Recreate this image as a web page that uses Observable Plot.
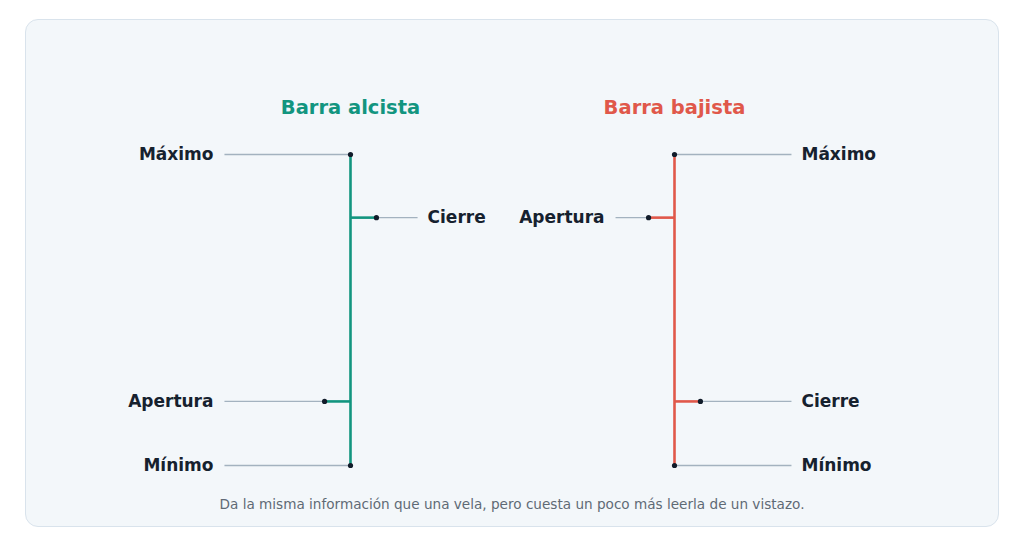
<!DOCTYPE html>
<html>
<head>
<meta charset="utf-8">
<script src="https://cdn.jsdelivr.net/npm/d3@7"></script>
<script src="https://cdn.jsdelivr.net/npm/@observablehq/plot@0.6"></script>
<style>
  html, body { margin: 0; padding: 0; background: #ffffff; }
  #page { position: relative; width: 1024px; height: 546px; overflow: hidden; font-family: "DejaVu Sans", sans-serif; }
  #card { position: absolute; left: 25px; top: 19px; width: 974px; height: 508px; box-sizing: border-box;
          background: #f3f7fa; border: 1px solid #d9e3ec; border-radius: 13px; }
  #chart { position: absolute; left: 0; top: 0; }
  #caption { position: absolute; left: 0; width: 1024px; top: 496px; text-align: center;
             font-size: 13.6px; line-height: 17px; color: #5f6a75; }
</style>
</head>
<body>
<div id="page">
  <div id="card"></div>
  <div id="chart"></div>
  <div id="caption">Da la misma información que una vela, pero cuesta un poco más leerla de un vistazo.</div>
</div>
<script>
// ---- data ----
const bars = ["Barra alcista", "Barra bajista"];
const openValues = [20.6, 79.7];
const highValues = [100, 100];
const lowValues = [0, 0];
const closeValues = [79.7, 20.6];
const fieldNames = ["Máximo", "Apertura", "Cierre", "Mínimo"];
const barColors = ["#12957f", "#e0584a"];

// ---- layout constants (in x-scale units, one unit between the bars) ----
const TICK = 0.08;
const OUTER = [-0.389, 0.361];     // outer leader end, relative to bar, per bar
const INNER = [0.207, -0.182];     // inner leader end, relative to bar, per bar
const outerSide = [-1, 1];

const barRows = bars.map((name, i) => ({
  name, i, open: openValues[i], high: highValues[i], low: lowValues[i], close: closeValues[i], color: barColors[i]
}));

const ticks = [];
const notes = [];
barRows.forEach(b => {
  const fields = [
    {label: fieldNames[0], value: b.high, side: outerSide[b.i], tick: 0},
    {label: fieldNames[1], value: b.open, side: -1, tick: -TICK},
    {label: fieldNames[2], value: b.close, side: 1, tick: TICK},
    {label: fieldNames[3], value: b.low, side: outerSide[b.i], tick: 0}
  ];
  fields.forEach(f => {
    const dotX = b.i + f.tick;
    const farX = b.i + (f.side === outerSide[b.i] ? OUTER[b.i] : INNER[b.i]);
    notes.push({label: f.label, y: f.value, dotX, farX, side: f.side});
    if (f.tick !== 0) ticks.push({x1: b.i, x2: dotX, y: f.value, color: b.color});
  });
});

const chart = Plot.plot({
  width: 1024,
  height: 490,
  marginLeft: 350,
  marginRight: 350,
  marginTop: 154,
  marginBottom: 25,
  x: {domain: [0, 1], axis: null},
  y: {domain: [0, 100], axis: null},
  style: {background: "transparent", fontFamily: "DejaVu Sans, sans-serif", overflow: "visible"},
  marks: [
    Plot.link(notes, {x1: "dotX", x2: "farX", y1: "y", y2: "y", stroke: "#a3b2bf", strokeWidth: 1.3}),
    Plot.ruleX(barRows, {x: "i", y1: "low", y2: "high", stroke: "color", strokeWidth: 2.6}),
    Plot.link(ticks, {x1: "x1", x2: "x2", y1: "y", y2: "y", stroke: "color", strokeWidth: 2.6}),
    Plot.dot(notes, {x: "dotX", y: "y", r: 2.6, fill: "#111c2a", stroke: null}),
    Plot.text(notes.filter(d => d.side < 0), {x: "farX", y: "y", text: "label", textAnchor: "end", dx: -11,
      fontSize: 17, fontWeight: "bold", fill: "#16212e"}),
    Plot.text(notes.filter(d => d.side > 0), {x: "farX", y: "y", text: "label", textAnchor: "start", dx: 10,
      fontSize: 17, fontWeight: "bold", fill: "#16212e"}),
    Plot.text(barRows, {x: "i", y: "high", text: "name", dy: -47, fontSize: 19.5, fontWeight: "bold", fill: "color"})
  ]
});
document.getElementById("chart").appendChild(chart);
</script>
</body>
</html>
